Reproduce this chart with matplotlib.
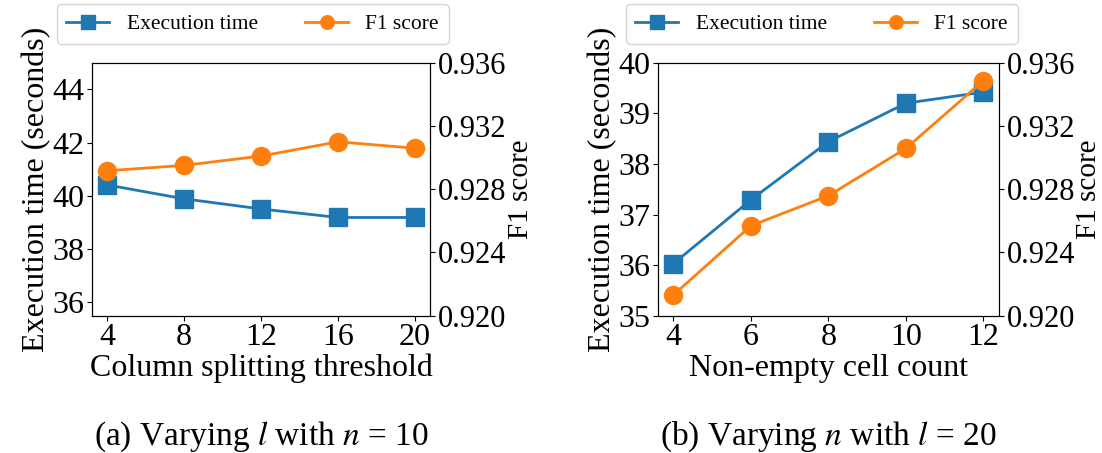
import matplotlib
matplotlib.use("Agg")
import matplotlib.pyplot as plt

plt.rcParams["font.family"] = ["Liberation Serif", "DejaVu Serif"]
plt.rcParams["mathtext.fontset"] = "stix"

# (a) varying column splitting threshold l
thresholds = [4, 8, 12, 16, 20]
time_a = [40.41, 39.89, 39.51, 39.19, 39.19]
f1_a = [0.92917, 0.92951, 0.9301, 0.9310, 0.9306]

# (b) varying non-empty cell count n
cell_counts = [4, 6, 8, 10, 12]
time_b = [36.03, 37.29, 38.44, 39.20, 39.42]
f1_b = [0.92131, 0.92569, 0.92759, 0.93058, 0.93486]

f1_ticks = [0.920, 0.924, 0.928, 0.932, 0.936]

BLUE = "#1f77b4"
ORANGE = "#ff7f0e"

fig = plt.figure(figsize=(11.02, 4.53), dpi=100)


def panel(rect, x, t, f1, xlabel, ylim, yticks, caption, leg_x):
    ax = fig.add_axes(rect)
    ax2 = ax.twinx()
    l1, = ax.plot(x, t, color=BLUE, marker="s", markersize=13, linewidth=2,
                  label="Execution time")
    l2, = ax2.plot(x, f1, color=ORANGE, marker="o", markersize=13, linewidth=2,
                   label="F1 score")
    ax.set_ylim(*ylim)
    ax.set_yticks(yticks)
    ax.set_xticks(x)
    ax2.set_ylim(0.920, 0.936)
    ax2.set_yticks(f1_ticks)
    ax2.set_yticklabels(["%.3f" % v for v in f1_ticks])
    ax.tick_params(labelsize=23, pad=2)
    ax2.tick_params(labelsize=22, pad=2)
    ax.set_xlabel(xlabel, fontsize=23, labelpad=1)
    ax.set_ylabel("Execution time (seconds)", fontsize=23, labelpad=1)
    ax2.set_ylabel("F1 score", fontsize=21, labelpad=1)
    ax.legend([l1, l2], ["Execution time", "F1 score"], ncol=2, fontsize=15.5,
              loc="lower center", bbox_to_anchor=(leg_x, 1.075),
              handlelength=2.0, columnspacing=2.2, markerscale=0.75,
              borderaxespad=0, borderpad=0.45)
    ax.text(0.5, -0.48, caption, transform=ax.transAxes, ha="center",
            va="center", fontsize=24)
    return ax


panel([0.0835, 0.303, 0.3067, 0.5585], thresholds, time_a, f1_a,
      "Column splitting threshold", (35.5, 45), [36, 38, 40, 42, 44],
      r"(a) Varying $l$ with $n$ = 10", 0.475)
panel([0.597, 0.303, 0.3094, 0.5585], cell_counts, time_b, f1_b,
      "Non-empty cell count", (35, 40), [35, 36, 37, 38, 39, 40],
      r"(b) Varying $n$ with $l$ = 20", 0.48)

fig.savefig("out.png", dpi=100)
